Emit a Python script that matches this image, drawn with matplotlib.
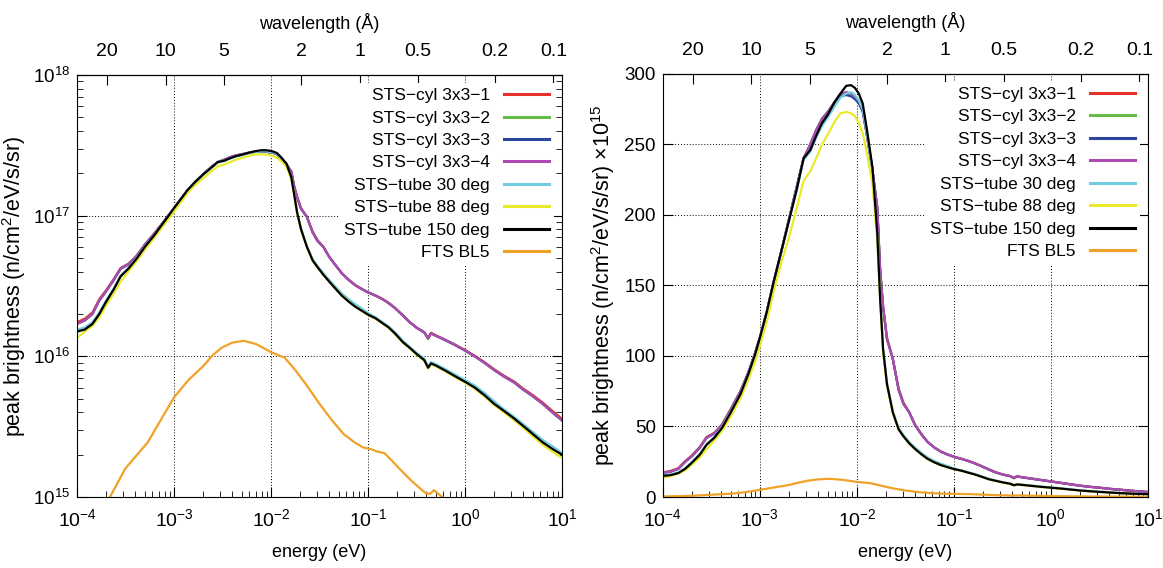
import numpy as np
import matplotlib.pyplot as plt
from matplotlib.ticker import LogLocator, NullFormatter, NullLocator, MultipleLocator

plt.rcParams['font.family'] = ['Liberation Sans', 'DejaVu Sans']
plt.rcParams['mathtext.fontset'] = 'custom'
plt.rcParams['mathtext.rm'] = 'Liberation Sans'
plt.rcParams['mathtext.it'] = 'Liberation Sans'
plt.rcParams['mathtext.sf'] = 'Liberation Sans'

# energy grid, log10(E / eV)
log_e = [-4.00, -3.92, -3.84, -3.77, -3.70, -3.62, -3.55, -3.47, -3.39, -3.30,
         -3.20, -3.12, -3.05, -3.00, -2.93, -2.86, -2.78, -2.70, -2.62, -2.55,
         -2.48, -2.42, -2.36, -2.30, -2.23, -2.17, -2.11, -2.06, -2.02, -1.98,
         -1.94, -1.90, -1.84, -1.79, -1.76, -1.73, -1.69, -1.63, -1.57, -1.52,
         -1.46, -1.40, -1.33, -1.27, -1.20, -1.13, -1.06, -1.00, -0.92, -0.85,
         -0.79, -0.72, -0.64, -0.57, -0.50, -0.42, -0.38, -0.35, -0.30, -0.20,
         -0.10, 0.00, 0.10, 0.20, 0.30, 0.40, 0.51, 0.60, 0.70, 0.80,
         0.90, 1.00]

# peak brightness in units of 1e15 n/cm2/eV/s/sr
cyl_1 = [17.5, 18.5, 20.5, 25.5, 29.5, 35.5, 42.5, 45.5, 51.5, 62.5,
         75, 88, 102, 113, 131, 152, 174, 197, 220, 240,
         250, 260, 268, 273, 280, 285, 287, 285, 283, 280,
         274, 258, 232, 205, 161, 135, 113, 98, 77, 67,
         60, 51, 44, 39, 35, 32, 30, 28.5, 27, 25.5,
         24, 22, 19.5, 17.5, 16, 14.8, 13.5, 14.7, 14.1, 13.1,
         12.1, 11.1, 10.1, 9.1, 8.1, 7.3, 6.6, 5.9, 5.3, 4.7,
         4.1, 3.6]
cyl_2 = [17, 18, 20, 25, 29, 35, 42, 45, 51, 62,
         75, 88, 102, 113, 131, 152, 174, 197, 220, 240,
         250, 260, 268, 273, 280, 285, 286, 285, 283, 280,
         274, 258, 232, 205, 160, 135, 112, 98, 76, 66,
         60, 51, 44, 39, 35, 32, 30, 28.5, 27, 25.5,
         24, 22, 19.5, 17.5, 16, 14.8, 13.3, 14.5, 14.0, 13.0,
         12.0, 11.0, 10.0, 9.0, 8.0, 7.2, 6.5, 5.8, 5.2, 4.6,
         4.0, 3.5]
cyl_3 = [17, 18, 20, 25, 29, 35, 42, 45, 51, 62,
         75, 88, 102, 113, 131, 152, 174, 197, 220, 240,
         250, 260, 268, 273, 279, 284, 285, 284, 282, 279,
         273, 258, 232, 205, 160, 135, 112, 98, 76, 66,
         60, 51, 44, 39, 35, 32, 30, 28.5, 27, 25.5,
         24, 22, 19.5, 17.5, 16, 14.8, 13.4, 14.6, 14.0, 13.0,
         12.0, 11.0, 10.0, 9.0, 8.0, 7.2, 6.5, 5.8, 5.2, 4.6,
         4.0, 3.5]
cyl_4 = [17, 18, 20, 25, 29, 35, 42, 45, 51, 62,
         75, 88, 102, 113, 131, 152, 174, 197, 220, 240,
         250, 260, 268, 273, 280, 286, 287, 286, 284, 281,
         275, 258, 232, 205, 160, 135, 112, 98, 76, 66,
         60, 51, 44, 39, 35, 32, 30, 28.5, 27, 25.5,
         24, 22, 19.5, 17.5, 16, 14.8, 13.4, 14.6, 14.0, 13.0,
         12.0, 11.0, 10.0, 9.0, 8.0, 7.2, 6.5, 5.8, 5.2, 4.6,
         4.0, 3.5]
tube_30 = [15.5, 16, 17.5, 20.5, 25, 30.5, 37.5, 42.5, 49.5, 60.5,
           73, 87, 101, 113, 131, 152, 174, 196, 218, 239,
           245, 255, 263, 269, 277, 283, 286, 287, 285, 281,
           275, 259, 232, 186, 142, 104, 81, 61, 49, 44,
           39, 35, 31, 28, 25.5, 23.5, 21.8, 20.3, 18.9, 17.5,
           16.4, 14.8, 12.9, 11.7, 10.6, 9.6, 8.5, 9.1, 8.8, 8.1,
           7.4, 6.8, 6.2, 5.5, 4.8, 4.2, 3.7, 3.3, 2.9, 2.55,
           2.3, 2.05]
tube_88 = [13.5, 15, 16.5, 19, 23, 28, 34, 40, 47, 57,
           70, 83, 96, 107, 124, 145, 166, 184, 205, 224,
           231, 240, 250, 257, 266, 272, 273, 272, 270, 265,
           258, 245, 222, 182, 140, 103, 79, 60, 48, 43,
           38, 34, 30, 27, 24.6, 22.5, 21, 19.7, 18.5, 17.1,
           16.0, 14.4, 12.5, 11.4, 10.3, 9.3, 8.2, 8.8, 8.5, 7.8,
           7.1, 6.5, 5.9, 5.2, 4.5, 4.0, 3.5, 3.1, 2.7, 2.35,
           2.1, 1.9]
tube_150 = [15.0, 15.5, 17.0, 20.0, 24.4, 30.0, 37.0, 42.0, 49.0, 60.0,
            73, 87, 101, 113, 131, 152, 174, 196, 218, 240,
            246, 256, 265, 271, 280, 286, 291.5, 292, 290, 286,
            279, 262, 234, 187, 140, 105, 80, 60, 48, 43,
            38, 34, 30, 27, 24.5, 22.5, 21, 19.8, 18.6, 17.2,
            16.1, 14.5, 12.6, 11.5, 10.4, 9.4, 8.3, 8.9, 8.6, 7.9,
            7.2, 6.6, 6.0, 5.3, 4.6, 4.1, 3.6, 3.2, 2.8, 2.45,
            2.2, 2.0]

fts_log_e = [-4.0, -3.8, -3.66, -3.5, -3.27, -3.15, -3.0, -2.85, -2.7, -2.6,
             -2.51, -2.4, -2.28, -2.15, -2.0, -1.86, -1.75, -1.63, -1.5, -1.37,
             -1.25, -1.14, -1.05, -0.98, -0.9, -0.83, -0.75, -0.68, -0.55, -0.41,
             -0.36, -0.32, -0.22, -0.1, 0.0, 0.25, 0.5, 0.75, 1.0]
fts_bl5 = [0.4, 0.65, 1.0, 1.6, 2.45, 3.4, 5.1, 6.8, 8.5, 10.2,
           11.5, 12.5, 12.9, 12.2, 10.7, 9.8, 8.0, 6.2, 4.6, 3.5,
           2.8, 2.45, 2.25, 2.2, 2.1, 2.05, 1.8, 1.6, 1.3, 1.07,
           1.05, 1.12, 0.98, 0.8, 0.65, 0.45, 0.32, 0.22, 0.15]

labels = ['STS\u2212cyl 3x3\u22121', 'STS\u2212cyl 3x3\u22122', 'STS\u2212cyl 3x3\u22123',
          'STS\u2212cyl 3x3\u22124', 'STS\u2212tube 30 deg', 'STS\u2212tube 88 deg',
          'STS\u2212tube 150 deg', 'FTS BL5']
colors = ['#e8302a', '#66bb44', '#2c46a0', '#b04ab2', '#70cde0', '#eaea2c', '#000000', '#f0a228']

wl_ticks = [20, 10, 5, 2, 1, 0.5, 0.2, 0.1]
wl_labels = ['20', '10', '5', '2', '1', '0.5', '0.2', '0.1']

energy = 10 ** np.array(log_e)
fts_energy = 10 ** np.array(fts_log_e)
series = [cyl_1, cyl_2, cyl_3, cyl_4, tube_30, tube_88, tube_150]


def e2l(e):
    e = np.clip(np.asarray(e, dtype=float), 1e-12, None)
    return np.sqrt(0.0818 / e)


def l2e(l):
    l = np.clip(np.asarray(l, dtype=float), 1e-12, None)
    return 0.0818 / l ** 2


fig = plt.figure(figsize=(11.63, 5.68), dpi=100)
ax1 = fig.add_axes([0.0662, 0.125, 0.417, 0.743])
ax2 = fig.add_axes([0.570, 0.125, 0.417, 0.745])

for ax, scale in [(ax1, 1e15), (ax2, 1.0)]:
    for vals, lab, col in zip(series, labels[:7], colors[:7]):
        ax.plot(energy, np.array(vals) * scale, color=col, lw=1.6, label=lab)
    ax.plot(fts_energy, np.array(fts_bl5) * scale, color=colors[7], lw=1.6, label=labels[7])

    ax.set_xscale('log')
    ax.set_xlim(1e-4, 10)
    ax.xaxis.set_major_locator(LogLocator(base=10, numticks=10))
    ax.xaxis.set_minor_locator(LogLocator(base=10, subs=np.arange(2, 10), numticks=20))
    ax.xaxis.set_minor_formatter(NullFormatter())
    ax.tick_params(which='both', direction='in', top=False, right=True)
    ax.tick_params(axis='x', labelsize=14, pad=8)
    ax.tick_params(axis='y', labelsize=13.5, pad=5)
    ax.tick_params(which='major', length=7)
    ax.tick_params(which='minor', length=4)
    ax.grid(True, which='major', color='black', linestyle=(0, (1, 2)), lw=0.7)
    ax.set_axisbelow(True)
    ax.set_xlabel('energy (eV)', fontsize=13, labelpad=10)

    sec = ax.secondary_xaxis('top', functions=(e2l, l2e))
    sec.set_xticks(wl_ticks, labels=wl_labels)
    sec.xaxis.set_minor_locator(NullLocator())
    sec.tick_params(direction='in', length=7, labelsize=14, pad=11)
    sec.set_xlabel('wavelength (\u00c5)', fontsize=13, labelpad=10)

    leg = ax.legend(loc='upper right', markerfirst=False, fontsize=12.5, frameon=True,
                    fancybox=False, edgecolor='none', facecolor='white', framealpha=1,
                    handlelength=2.6, labelspacing=0.42, borderpad=0.3,
                    borderaxespad=0.45, handletextpad=0.8)
    for line in leg.get_lines():
        line.set_linewidth(2.2)

ax1.set_yscale('log')
ax1.set_ylim(1e15, 1e18)
ax1.yaxis.set_minor_locator(LogLocator(base=10, subs=np.arange(2, 10), numticks=20))
ax1.yaxis.set_minor_formatter(NullFormatter())
ax1.set_ylabel('peak brightness (n/cm$^2$/eV/s/sr)', fontsize=15.5)
ax1.yaxis.set_label_coords(-0.10, 0.5)

ax2.set_ylim(0, 300)
ax2.yaxis.set_major_locator(MultipleLocator(50))
ax2.yaxis.set_minor_locator(NullLocator())
ax2.set_ylabel('peak brightness (n/cm$^2$/eV/s/sr) \u00d710$^{15}$', fontsize=15.5)
ax2.yaxis.set_label_coords(-0.095, 0.5)

fig.savefig('out.png', dpi=100)
